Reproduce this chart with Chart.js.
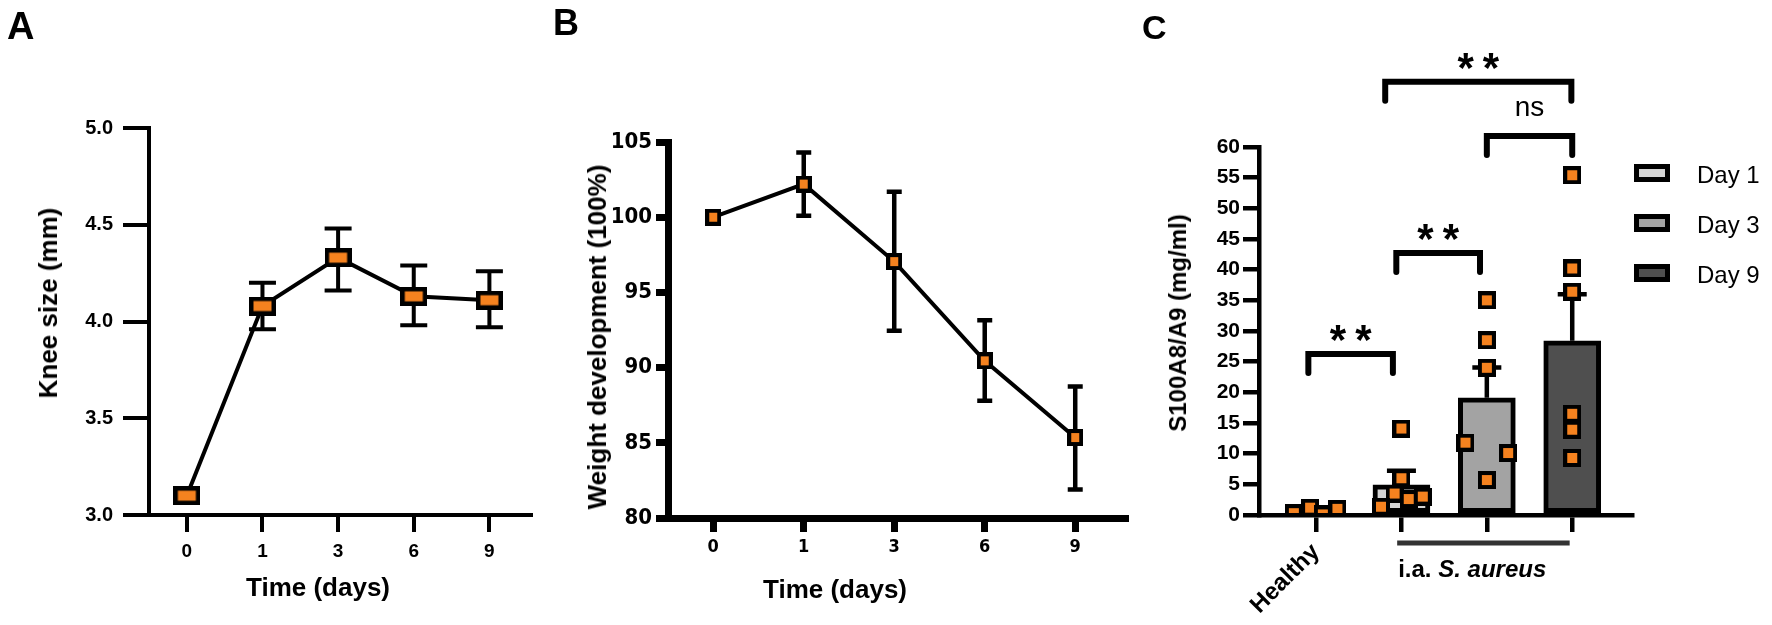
<!DOCTYPE html>
<html>
<head>
<meta charset="utf-8">
<title>Knee size, weight development and S100A8/A9</title>
<script src="https://cdn.jsdelivr.net/npm/chart.js@4.4.1/dist/chart.umd.min.js"></script>
<style>
  html, body { margin:0; padding:0; background:#ffffff; }
  #fig { position:relative; width:1772px; height:625px; overflow:hidden; background:#fff;
         font-family:'Liberation Sans', Arial, Helvetica, sans-serif; color:#000; }
  #fig canvas { position:absolute; left:0; top:0; }
  .lbl { position:absolute; white-space:nowrap; font-weight:bold; line-height:1; }
  .c { transform:translate(-50%,-50%); }
  .v { transform:translate(-50%,-50%) rotate(-90deg); }
</style>
</head>
<body>
<div id="fig">
  <canvas id="chartA" width="1772" height="625"></canvas>
  <canvas id="chartB" width="1772" height="625"></canvas>
  <canvas id="chartC" width="1772" height="625"></canvas>
  <div class="lbl" style="left:7px;top:7px;font-size:38px;">A</div>
  <div class="lbl v" style="left:48px;top:303px;font-size:26px;">Knee size (mm)</div>
  <div class="lbl c" style="left:318px;top:587px;font-size:26px;">Time (days)</div>
  <div class="lbl" style="left:553px;top:5px;font-size:36px;">B</div>
  <div class="lbl v" style="left:597px;top:337px;font-size:26px;">Weight development (100%)</div>
  <div class="lbl c" style="left:835px;top:589px;font-size:26px;">Time (days)</div>
  <div class="lbl" style="left:1142px;top:10px;font-size:34px;">C</div>
  <div class="lbl v" style="left:1178px;top:323px;font-size:24px;">S100A8/A9 (mg/ml)</div>
</div>
<script>
// ---------------- data ----------------
// Panel A: knee size (mm)
const dayLabels = ['0', '1', '3', '6', '9'];
const kneeMean = [3.10, 4.08, 4.33, 4.13, 4.11];
const kneeHigh = [3.10, 4.20, 4.48, 4.29, 4.26];
const kneeLow  = [3.10, 3.96, 4.16, 3.98, 3.97];
const kneeTicks = [3.0, 3.5, 4.0, 4.5, 5.0];

// Panel B: weight development (%)
const weightMean = [100.0, 102.2, 97.05, 90.45, 85.35];
const weightHigh = [100.0, 104.3, 101.7, 93.15, 88.75];
const weightLow  = [100.0, 100.1, 92.45, 87.8, 81.9];

// Panel C: S100A8/A9 (mg/ml)
const groupsC = ['Healthy', 'Day 1', 'Day 3', 'Day 9'];
const tickLabelsC = ['Healthy', '', '', ''];
const meanC = [0.65, 4.9, 19.1, 28.4];
const semHighC = [0.8, 7.2, 24.05, 36.0];
const ptsHealthy = [0.3, 1.2, 0.1, 1.0];
const ptsDay1 = [14.1, 6.0, 3.5, 1.35, 2.6, 3.0];
const ptsDay3 = [35.0, 28.5, 24.0, 11.8, 10.1, 5.7];
const ptsDay9 = [55.4, 40.2, 36.4, 16.5, 13.9, 9.3];
const jitHealthy = [-0.26, -0.07, 0.08, 0.25];
const jitDay1 = [0, 0, -0.08, -0.24, 0.085, 0.25];
const jitDay3 = [0, 0, 0, -0.25, 0.25, 0];
const jitDay9 = [0, 0, 0, 0, 0, 0];
const barColorsC = ['#ffffff', '#d4d4d4', '#a3a3a3', '#4f4f4f'];
// significance brackets (x in group units, y in mg/ml)
const sigLabels = ['**', '**', 'ns', '**'];
const sigFrom = [-0.09, 0.94, 2.00, 0.81];
const sigTo   = [0.90, 1.92, 3.00, 2.99];
const sigY    = [26.25, 42.7, 61.8, 70.65];
const iaLabelA = 'i.a. ';
const iaLabelB = 'S. aureus';
const iaFrom = 0.95, iaTo = 2.97;

// ---------------- helpers ----------------
const FONT = "'Liberation Sans', Arial, Helvetica, sans-serif";
const NARROW = "'Liberation Sans Narrow', 'Arial Narrow', 'DejaVu Sans Condensed', 'Liberation Sans', sans-serif";
Chart.defaults.font.family = FONT;
Chart.defaults.color = '#000';
const W = 1772, H = 625;
const ORANGE = '#f5821f';

function makeMarker(w, h, b) {
  const c = document.createElement('canvas');
  c.width = w; c.height = h;
  const g = c.getContext('2d');
  g.fillStyle = '#000'; g.fillRect(0, 0, w, h);
  g.fillStyle = ORANGE; g.fillRect(b, b, w - 2 * b, h - 2 * b);
  return c;
}
const markerA = makeMarker(27, 19, 4.5);
const markerB = makeMarker(16, 17, 4);
const markerC = makeMarker(18, 18, 4);

const errorBarPlugin = {
  id: 'errorBars',
  beforeDatasetDraw(chart, args, opts) {
    if (!opts || !opts.high || args.index !== opts.datasetIndex) return;
    const xs = chart.scales.x, ys = chart.scales.y, ctx = chart.ctx;
    ctx.save();
    ctx.strokeStyle = '#000';
    ctx.lineWidth = opts.lineWidth;
    ctx.lineCap = 'butt';
    const c = opts.cap / 2;
    opts.high.forEach((hv, i) => {
      const px = xs.getPixelForValue(i);
      const yH = ys.getPixelForValue(hv);
      const yL = ys.getPixelForValue(opts.low[i]);
      if (Math.abs(yL - yH) < 0.5) return;
      ctx.beginPath();
      ctx.moveTo(px, yL); ctx.lineTo(px, yH);
      ctx.moveTo(px - c, yH); ctx.lineTo(px + c, yH);
      if (opts.lowCap) { ctx.moveTo(px - c, yL); ctx.lineTo(px + c, yL); }
      ctx.stroke();
    });
    ctx.restore();
  }
};

function axisStyle(width, tickLen) {
  return {
    grid: { display: true, drawOnChartArea: false, drawTicks: true, tickLength: tickLen, lineWidth: width, color: '#000' },
    border: { display: true, width: width, color: '#000' }
  };
}
const indexTicks = (labels) => (s) => { s.ticks = labels.map((_, i) => ({ value: i })); };

// ---------------- Panel A ----------------
new Chart(document.getElementById('chartA'), {
  type: 'line',
  data: { datasets: [{
    data: kneeMean.map((v, i) => ({ x: i, y: v })),
    borderColor: '#000', borderWidth: 4, tension: 0, fill: false,
    pointStyle: markerA, pointRadius: 10, clip: false
  }] },
  options: {
    responsive: false, animation: false, events: [],
    layout: { padding: { left: 9, top: 128, right: W - 531, bottom: 0 } },
    plugins: { legend: { display: false }, tooltip: { enabled: false },
      errorBars: { datasetIndex: 0, low: kneeLow, high: kneeHigh, cap: 27, lineWidth: 4, lowCap: true } },
    scales: {
      x: Object.assign({ type: 'linear', min: -0.5, max: 4.55, offset: false,
        afterBuildTicks: indexTicks(dayLabels),
        afterFit: (s) => { s.height = 110; },
        ticks: { callback: (v) => dayLabels[v], font: { size: 19, weight: 'bold' }, padding: 8, color: '#000', maxRotation: 0, autoSkip: false }
      }, axisStyle(4, 17)),
      y: Object.assign({ type: 'linear', min: 3, max: 5,
        afterBuildTicks: (s) => { s.ticks = kneeTicks.map(v => ({ value: v })); },
        afterFit: (s) => { s.width = 140; },
        ticks: { callback: (v) => v.toFixed(1), font: { size: 20, weight: 'bold' }, padding: 10, color: '#000' }
      }, axisStyle(4, 26))
    }
  },
  plugins: [errorBarPlugin]
});

// ---------------- Panel B ----------------
new Chart(document.getElementById('chartB'), {
  type: 'line',
  data: { datasets: [{
    data: weightMean.map((v, i) => ({ x: i, y: v })),
    borderColor: '#000', borderWidth: 4, tension: 0, fill: false,
    pointStyle: markerB, pointRadius: 9, clip: false
  }] },
  options: {
    responsive: false, animation: false, events: [],
    layout: { padding: { left: 568, top: 142, right: W - 1125, bottom: 0 } },
    plugins: { legend: { display: false }, tooltip: { enabled: false },
      errorBars: { datasetIndex: 0, low: weightLow, high: weightHigh, cap: 15, lineWidth: 4.5, lowCap: true } },
    scales: {
      x: Object.assign({ type: 'linear', min: -0.5, max: 4.55, offset: false,
        afterBuildTicks: indexTicks(dayLabels),
        afterFit: (s) => { s.height = 107; },
        ticks: { callback: (v) => dayLabels[v], font: { family: NARROW, size: 18, weight: 'bold' }, padding: 5, color: '#000', maxRotation: 0, autoSkip: false }
      }, axisStyle(7, 14)),
      y: Object.assign({ type: 'linear', min: 80, max: 105,
        afterFit: (s) => { s.width = 100; },
        ticks: { stepSize: 5, font: { family: NARROW, size: 22, weight: 'bold' }, padding: 4, color: '#000' }
      }, axisStyle(7, 12))
    }
  },
  plugins: [errorBarPlugin]
});

// ---------------- Panel C ----------------
const scatterC = [];
[[ptsHealthy, jitHealthy], [ptsDay1, jitDay1], [ptsDay3, jitDay3], [ptsDay9, jitDay9]].forEach(([pts, jit], g) => {
  pts.forEach((v, i) => scatterC.push({ x: g + jit[i], y: v }));
});

const cAnnotPlugin = {
  id: 'cAnnot',
  afterDraw(chart) {
    const { ctx, chartArea: ca, scales: { x, y } } = chart;
    ctx.save();
    // significance brackets
    sigFrom.forEach((f, i) => {
      const x1 = x.getPixelForValue(f), x2 = x.getPixelForValue(sigTo[i]);
      const yb = y.getPixelForValue(sigY[i]), yl = yb + 19;
      ctx.strokeStyle = '#000'; ctx.lineWidth = 6; ctx.lineJoin = 'miter'; ctx.lineCap = 'round';
      ctx.beginPath(); ctx.moveTo(x1, yl); ctx.lineTo(x1, yb); ctx.lineTo(x2, yb); ctx.lineTo(x2, yl); ctx.stroke();
      const cx = (x1 + x2) / 2;
      ctx.fillStyle = '#000'; ctx.textAlign = 'center'; ctx.textBaseline = 'alphabetic';
      if (sigLabels[i] === 'ns') {
        ctx.font = '28px ' + FONT;
        ctx.fillText(sigLabels[i], cx, yb - 19.5);
      } else {
        ctx.font = 'bold 42px ' + FONT;
        ctx.letterSpacing = '9px';
        ctx.fillText(sigLabels[i], cx + 4.5, yb);
        ctx.letterSpacing = '0px';
      }
    });
    // legend
    const lx = ca.right + 2;
    groupsC.slice(1).forEach((name, i) => {
      const cy = ca.top + 26 + i * 50;
      ctx.fillStyle = barColorsC[i + 1];
      ctx.fillRect(lx + 2.5, cy - 6.5, 31, 13);
      ctx.strokeStyle = '#000'; ctx.lineWidth = 5; ctx.lineJoin = 'miter';
      ctx.strokeRect(lx + 2.5, cy - 6.5, 31, 13);
      ctx.fillStyle = '#000'; ctx.font = '24px ' + FONT; ctx.textAlign = 'left'; ctx.textBaseline = 'alphabetic';
      ctx.fillText(name, lx + 63, cy + 10);
    });
    // i.a. S. aureus group line and label
    const ly = ca.bottom + 28;
    const sx = x.getPixelForValue(iaFrom), ex = x.getPixelForValue(iaTo);
    ctx.strokeStyle = '#333'; ctx.lineWidth = 5; ctx.lineCap = 'butt';
    ctx.beginPath(); ctx.moveTo(sx, ly); ctx.lineTo(ex, ly); ctx.stroke();
    ctx.fillStyle = '#000'; ctx.textAlign = 'left'; ctx.textBaseline = 'alphabetic';
    ctx.font = 'bold 24px ' + FONT;
    ctx.fillText(iaLabelA, sx + 1, ca.bottom + 62);
    const w = ctx.measureText(iaLabelA).width;
    ctx.font = 'italic bold 24px ' + FONT;
    ctx.fillText(iaLabelB, sx + 1 + w, ca.bottom + 62);
    ctx.restore();
  }
};

new Chart(document.getElementById('chartC'), {
  type: 'bar',
  data: { datasets: [
    { type: 'bar', data: meanC.map((v, i) => ({ x: i, y: v })), backgroundColor: barColorsC,
      borderColor: '#000', borderWidth: 5, borderSkipped: false, barThickness: 57, order: 2 },
    { type: 'scatter', data: scatterC, pointStyle: markerC, pointRadius: 9, showLine: false,
      clip: { left: false, top: false, right: false, bottom: 0 }, order: 1 }
  ] },
  options: {
    responsive: false, animation: false, events: [],
    layout: { padding: { left: 1179, top: 147, right: W - 1632, bottom: 0 } },
    plugins: { legend: { display: false }, tooltip: { enabled: false },
      errorBars: { datasetIndex: 1, low: meanC, high: semHighC, cap: 29, lineWidth: 4.5, lowCap: false } },
    scales: {
      x: Object.assign({ type: 'linear', min: -0.668, max: 3.70, offset: false,
        afterBuildTicks: indexTicks(tickLabelsC),
        afterFit: (s) => { s.height = 110; },
        ticks: { callback: (v) => tickLabelsC[v], font: { size: 24, weight: 'bold' }, padding: 6, color: '#000', minRotation: 45, maxRotation: 45, autoSkip: false }
      }, { grid: { display: true, drawOnChartArea: false, drawTicks: true, tickLength: 17, lineWidth: 4.5, color: '#000', offset: false },
           border: { display: true, width: 4.5, color: '#000', z: 1 } }),
      y: Object.assign({ type: 'linear', min: 0, max: 60,
        afterFit: (s) => { s.width = 80; },
        ticks: { stepSize: 5, font: { size: 21, weight: 'bold' }, padding: 3, color: '#000' }
      }, axisStyle(4.5, 16))
    }
  },
  plugins: [errorBarPlugin, cAnnotPlugin]
});
</script>
</body>
</html>
